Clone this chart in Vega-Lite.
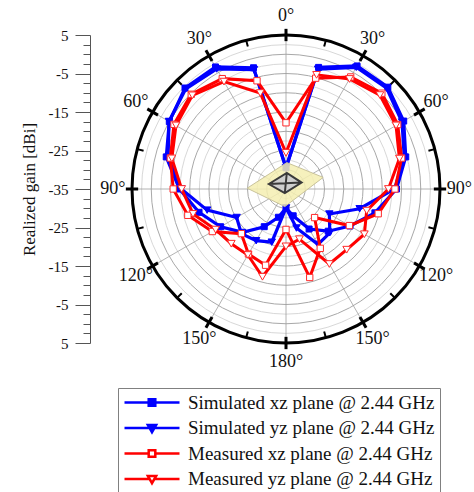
{
  "$schema": "https://vega.github.io/schema/vega-lite/v6.json",
  "width": 308,
  "height": 308,
  "autosize": {"type": "none"},
  "padding": {"left": 132, "top": 35, "right": 34, "bottom": 149},
  "background": "white",
  "config": {"view": {"stroke": null}, "font": "Liberation Serif"},
  "datasets": {
    "pattern": [
      {"series": "Simulated xz plane @ 2.44 GHz", "angle": -165, "gain": -27.4},
      {"series": "Simulated xz plane @ 2.44 GHz", "angle": -150, "gain": -23.7},
      {"series": "Simulated xz plane @ 2.44 GHz", "angle": -135, "gain": -19.1},
      {"series": "Simulated xz plane @ 2.44 GHz", "angle": -120, "gain": -15.4},
      {"series": "Simulated xz plane @ 2.44 GHz", "angle": -105, "gain": -11.6},
      {"series": "Simulated xz plane @ 2.44 GHz", "angle": -90, "gain": -7.3},
      {"series": "Simulated xz plane @ 2.44 GHz", "angle": -75, "gain": -2.8},
      {"series": "Simulated xz plane @ 2.44 GHz", "angle": -60, "gain": 0.0},
      {"series": "Simulated xz plane @ 2.44 GHz", "angle": -45, "gain": 2.1},
      {"series": "Simulated xz plane @ 2.44 GHz", "angle": -30, "gain": 1.6},
      {"series": "Simulated xz plane @ 2.44 GHz", "angle": -15, "gain": -2.4},
      {"series": "Simulated xz plane @ 2.44 GHz", "angle": 0, "gain": -29.5},
      {"series": "Simulated xz plane @ 2.44 GHz", "angle": 15, "gain": -2.3},
      {"series": "Simulated xz plane @ 2.44 GHz", "angle": 30, "gain": 1.9},
      {"series": "Simulated xz plane @ 2.44 GHz", "angle": 45, "gain": 2.4},
      {"series": "Simulated xz plane @ 2.44 GHz", "angle": 60, "gain": 0.3},
      {"series": "Simulated xz plane @ 2.44 GHz", "angle": 75, "gain": -2.8},
      {"series": "Simulated xz plane @ 2.44 GHz", "angle": 90, "gain": -6.3},
      {"series": "Simulated xz plane @ 2.44 GHz", "angle": 105, "gain": -11.1},
      {"series": "Simulated xz plane @ 2.44 GHz", "angle": 120, "gain": -15.8},
      {"series": "Simulated xz plane @ 2.44 GHz", "angle": 135, "gain": -19.5},
      {"series": "Simulated xz plane @ 2.44 GHz", "angle": 150, "gain": -23.0},
      {"series": "Simulated xz plane @ 2.44 GHz", "angle": 165, "gain": -27.8},
      {"series": "Simulated xz plane @ 2.44 GHz", "angle": 180, "gain": -30.1},
      {"series": "Simulated yz plane @ 2.44 GHz", "angle": -165, "gain": -20.7},
      {"series": "Simulated yz plane @ 2.44 GHz", "angle": -150, "gain": -19.5},
      {"series": "Simulated yz plane @ 2.44 GHz", "angle": -135, "gain": -18.6},
      {"series": "Simulated yz plane @ 2.44 GHz", "angle": -120, "gain": -20.2},
      {"series": "Simulated yz plane @ 2.44 GHz", "angle": -105, "gain": -13.8},
      {"series": "Simulated yz plane @ 2.44 GHz", "angle": -90, "gain": -7.8},
      {"series": "Simulated yz plane @ 2.44 GHz", "angle": -75, "gain": -3.3},
      {"series": "Simulated yz plane @ 2.44 GHz", "angle": -60, "gain": 0.1},
      {"series": "Simulated yz plane @ 2.44 GHz", "angle": -45, "gain": 1.8},
      {"series": "Simulated yz plane @ 2.44 GHz", "angle": -30, "gain": 1.0},
      {"series": "Simulated yz plane @ 2.44 GHz", "angle": -15, "gain": -2.9},
      {"series": "Simulated yz plane @ 2.44 GHz", "angle": 0, "gain": -29.5},
      {"series": "Simulated yz plane @ 2.44 GHz", "angle": 15, "gain": -2.8},
      {"series": "Simulated yz plane @ 2.44 GHz", "angle": 30, "gain": 1.5},
      {"series": "Simulated yz plane @ 2.44 GHz", "angle": 45, "gain": 2.0},
      {"series": "Simulated yz plane @ 2.44 GHz", "angle": 60, "gain": -0.2},
      {"series": "Simulated yz plane @ 2.44 GHz", "angle": 75, "gain": -3.2},
      {"series": "Simulated yz plane @ 2.44 GHz", "angle": 90, "gain": -6.8},
      {"series": "Simulated yz plane @ 2.44 GHz", "angle": 105, "gain": -15.2},
      {"series": "Simulated yz plane @ 2.44 GHz", "angle": 120, "gain": -22.0},
      {"series": "Simulated yz plane @ 2.44 GHz", "angle": 135, "gain": -18.9},
      {"series": "Simulated yz plane @ 2.44 GHz", "angle": 150, "gain": -18.4},
      {"series": "Simulated yz plane @ 2.44 GHz", "angle": 165, "gain": -24.5},
      {"series": "Simulated yz plane @ 2.44 GHz", "angle": 180, "gain": -30.1},
      {"series": "Measured xz plane @ 2.44 GHz", "angle": -165, "gain": -14.5},
      {"series": "Measured xz plane @ 2.44 GHz", "angle": -150, "gain": -15.5},
      {"series": "Measured xz plane @ 2.44 GHz", "angle": -135, "gain": -18.6},
      {"series": "Measured xz plane @ 2.44 GHz", "angle": -120, "gain": -12.9},
      {"series": "Measured xz plane @ 2.44 GHz", "angle": -105, "gain": -8.6},
      {"series": "Measured xz plane @ 2.44 GHz", "angle": -90, "gain": -5.7},
      {"series": "Measured xz plane @ 2.44 GHz", "angle": -75, "gain": -3.9},
      {"series": "Measured xz plane @ 2.44 GHz", "angle": -60, "gain": -1.4},
      {"series": "Measured xz plane @ 2.44 GHz", "angle": -45, "gain": -0.2},
      {"series": "Measured xz plane @ 2.44 GHz", "angle": -30, "gain": -1.9},
      {"series": "Measured xz plane @ 2.44 GHz", "angle": -15, "gain": -5.9},
      {"series": "Measured xz plane @ 2.44 GHz", "angle": 0, "gain": -17.8},
      {"series": "Measured xz plane @ 2.44 GHz", "angle": 15, "gain": -5.2},
      {"series": "Measured xz plane @ 2.44 GHz", "angle": 30, "gain": -1.4},
      {"series": "Measured xz plane @ 2.44 GHz", "angle": 45, "gain": 0.2},
      {"series": "Measured xz plane @ 2.44 GHz", "angle": 60, "gain": -1.5},
      {"series": "Measured xz plane @ 2.44 GHz", "angle": 75, "gain": -3.9},
      {"series": "Measured xz plane @ 2.44 GHz", "angle": 90, "gain": -6.7},
      {"series": "Measured xz plane @ 2.44 GHz", "angle": 105, "gain": -10.2},
      {"series": "Measured xz plane @ 2.44 GHz", "angle": 120, "gain": -16.0},
      {"series": "Measured xz plane @ 2.44 GHz", "angle": 135, "gain": -24.5},
      {"series": "Measured xz plane @ 2.44 GHz", "angle": 150, "gain": -17.2},
      {"series": "Measured xz plane @ 2.44 GHz", "angle": 165, "gain": -11.2},
      {"series": "Measured xz plane @ 2.44 GHz", "angle": 180, "gain": -24.5},
      {"series": "Measured yz plane @ 2.44 GHz", "angle": -165, "gain": -11.4},
      {"series": "Measured yz plane @ 2.44 GHz", "angle": -150, "gain": -15.2},
      {"series": "Measured yz plane @ 2.44 GHz", "angle": -135, "gain": -14.9},
      {"series": "Measured yz plane @ 2.44 GHz", "angle": -120, "gain": -13.9},
      {"series": "Measured yz plane @ 2.44 GHz", "angle": -105, "gain": -10.0},
      {"series": "Measured yz plane @ 2.44 GHz", "angle": -90, "gain": -7.9},
      {"series": "Measured yz plane @ 2.44 GHz", "angle": -75, "gain": -4.3},
      {"series": "Measured yz plane @ 2.44 GHz", "angle": -60, "gain": -2.0},
      {"series": "Measured yz plane @ 2.44 GHz", "angle": -45, "gain": -0.6},
      {"series": "Measured yz plane @ 2.44 GHz", "angle": -30, "gain": -2.8},
      {"series": "Measured yz plane @ 2.44 GHz", "angle": -15, "gain": -9.2},
      {"series": "Measured yz plane @ 2.44 GHz", "angle": 0, "gain": -25.6},
      {"series": "Measured yz plane @ 2.44 GHz", "angle": 15, "gain": -4.3},
      {"series": "Measured yz plane @ 2.44 GHz", "angle": 30, "gain": -2.0},
      {"series": "Measured yz plane @ 2.44 GHz", "angle": 45, "gain": -0.5},
      {"series": "Measured yz plane @ 2.44 GHz", "angle": 60, "gain": -2.0},
      {"series": "Measured yz plane @ 2.44 GHz", "angle": 75, "gain": -4.5},
      {"series": "Measured yz plane @ 2.44 GHz", "angle": 90, "gain": -8.4},
      {"series": "Measured yz plane @ 2.44 GHz", "angle": 105, "gain": -13.3},
      {"series": "Measured yz plane @ 2.44 GHz", "angle": 120, "gain": -11.5},
      {"series": "Measured yz plane @ 2.44 GHz", "angle": 135, "gain": -12.7},
      {"series": "Measured yz plane @ 2.44 GHz", "angle": 150, "gain": -12.5},
      {"series": "Measured yz plane @ 2.44 GHz", "angle": 165, "gain": -21.5},
      {"series": "Measured yz plane @ 2.44 GHz", "angle": 180, "gain": -20.1}
    ]
  },
  "layer": [
    {
      "data": {"values": [{"level": -32.5}, {"level": -30}, {"level": -27.5}, {"level": -25}, {"level": -22.5}, {"level": -20}, {"level": -17.5}, {"level": -15}, {"level": -12.5}, {"level": -10}, {"level": -7.5}, {"level": -5}, {"level": -2.5}, {"level": 0}, {"level": 2.5}, {"level": 5}]},
      "transform": [
        {"calculate": "0", "as": "ox"},
        {"calculate": "pow(2 * (datum.level + 35) * 3.85, 2)", "as": "area"}
      ],
      "mark": {"type": "point", "shape": "circle", "filled": false, "fill": null, "opacity": 1},
      "encoding": {
        "x": {"field": "ox", "type": "quantitative", "scale": {"domain": [-40, 40], "nice": false, "zero": false}, "axis": null},
        "y": {"field": "ox", "type": "quantitative", "scale": {"domain": [-40, 40], "nice": false, "zero": false},
          "axis": {"orient": "left", "offset": 42, "values": [-40, -37.5, -35, -32.5, -30, -27.5, -25, -22.5, -20, -17.5, -15, -12.5, -10, -7.5, -5, -2.5, 0, 2.5, 5, 7.5, 10, 12.5, 15, 17.5, 20, 22.5, 25, 27.5, 30, 32.5, 35, 37.5, 40], "labelExpr": "datum.value % 10 === 0 ? '' + (abs(datum.value) - 35) : ''", "tickSize": {"condition": {"test": "datum.value % 10 === 0", "value": 15}, "value": 7}, "tickColor": "#555", "domainColor": "#555", "grid": false, "labelFont": "Liberation Serif", "labelFontSize": 15, "labelColor": "#111", "labelPadding": 7, "labelOverlap": false, "labelFlush": false, "title": "Realized gain [dBi]", "titleFont": "Liberation Serif", "titleFontSize": 17, "titleFontWeight": "normal", "titleColor": "#111", "titlePadding": 10}},
        "size": {"field": "area", "type": "quantitative", "scale": null},
        "stroke": {"condition": [{"test": "datum.level === 5", "value": "black"}, {"test": "datum.level % 5 === 0", "value": "#a8a8a8"}], "value": "#d8d8d8"},
        "strokeWidth": {"condition": {"test": "datum.level === 5", "value": 3}, "value": 1}
      }
    },
    {
      "data": {"values": [{"angle": 0}, {"angle": 30}, {"angle": 60}, {"angle": 90}, {"angle": 120}, {"angle": 150}, {"angle": 180}, {"angle": 210}, {"angle": 240}, {"angle": 270}, {"angle": 300}, {"angle": 330}]},
      "transform": [
        {"calculate": "0", "as": "ox"},
        {"calculate": "39.5 * sin(datum.angle * PI / 180)", "as": "ex"},
        {"calculate": "39.5 * cos(datum.angle * PI / 180)", "as": "ey"}
      ],
      "mark": {"type": "rule", "color": "#a0a0a0", "strokeWidth": 0.8},
      "encoding": {
        "x": {"field": "ox", "type": "quantitative", "scale": {"domain": [-40, 40], "nice": false, "zero": false}, "axis": null},
        "y": {"field": "ox", "type": "quantitative", "scale": {"domain": [-40, 40], "nice": false, "zero": false},
          "axis": {"orient": "left", "offset": 42, "values": [-40, -37.5, -35, -32.5, -30, -27.5, -25, -22.5, -20, -17.5, -15, -12.5, -10, -7.5, -5, -2.5, 0, 2.5, 5, 7.5, 10, 12.5, 15, 17.5, 20, 22.5, 25, 27.5, 30, 32.5, 35, 37.5, 40], "labelExpr": "datum.value % 10 === 0 ? '' + (abs(datum.value) - 35) : ''", "tickSize": {"condition": {"test": "datum.value % 10 === 0", "value": 15}, "value": 7}, "tickColor": "#555", "domainColor": "#555", "grid": false, "labelFont": "Liberation Serif", "labelFontSize": 15, "labelColor": "#111", "labelPadding": 7, "labelOverlap": false, "labelFlush": false, "title": "Realized gain [dBi]", "titleFont": "Liberation Serif", "titleFontSize": 17, "titleFontWeight": "normal", "titleColor": "#111", "titlePadding": 10}},
        "x2": {"field": "ex"},
        "y2": {"field": "ey"}
      }
    },
    {
      "data": {"values": [{"angle": 0}, {"angle": 15}, {"angle": 30}, {"angle": 45}, {"angle": 60}, {"angle": 75}, {"angle": 90}, {"angle": 105}, {"angle": 120}, {"angle": 135}, {"angle": 150}, {"angle": 165}, {"angle": 180}, {"angle": 195}, {"angle": 210}, {"angle": 225}, {"angle": 240}, {"angle": 255}, {"angle": 270}, {"angle": 285}, {"angle": 300}, {"angle": 315}, {"angle": 330}, {"angle": 345}]},
      "transform": [
        {"calculate": "datum.angle % 30 === 0 ? 38.4 : 38.3", "as": "r1"},
        {"calculate": "datum.angle % 30 === 0 ? 41.6 : 40", "as": "r2"},
        {"calculate": "datum.r1 * sin(datum.angle * PI / 180)", "as": "tx1"},
        {"calculate": "datum.r1 * cos(datum.angle * PI / 180)", "as": "ty1"},
        {"calculate": "datum.r2 * sin(datum.angle * PI / 180)", "as": "tx2"},
        {"calculate": "datum.r2 * cos(datum.angle * PI / 180)", "as": "ty2"}
      ],
      "mark": {"type": "rule", "color": "black"},
      "encoding": {
        "x": {"field": "tx1", "type": "quantitative", "scale": {"domain": [-40, 40], "nice": false, "zero": false}, "axis": null},
        "y": {"field": "ty1", "type": "quantitative", "scale": {"domain": [-40, 40], "nice": false, "zero": false},
          "axis": {"orient": "left", "offset": 42, "values": [-40, -37.5, -35, -32.5, -30, -27.5, -25, -22.5, -20, -17.5, -15, -12.5, -10, -7.5, -5, -2.5, 0, 2.5, 5, 7.5, 10, 12.5, 15, 17.5, 20, 22.5, 25, 27.5, 30, 32.5, 35, 37.5, 40], "labelExpr": "datum.value % 10 === 0 ? '' + (abs(datum.value) - 35) : ''", "tickSize": {"condition": {"test": "datum.value % 10 === 0", "value": 15}, "value": 7}, "tickColor": "#555", "domainColor": "#555", "grid": false, "labelFont": "Liberation Serif", "labelFontSize": 15, "labelColor": "#111", "labelPadding": 7, "labelOverlap": false, "labelFlush": false, "title": "Realized gain [dBi]", "titleFont": "Liberation Serif", "titleFontSize": 17, "titleFontWeight": "normal", "titleColor": "#111", "titlePadding": 10}},
        "x2": {"field": "tx2"},
        "y2": {"field": "ty2"},
        "strokeWidth": {"condition": {"test": "datum.angle % 30 === 0", "value": 3}, "value": 2}
      }
    },
    {
      "data": {"values": [
        {"angle": 0, "label": "0°"}, {"angle": 30, "label": "30°"}, {"angle": 60, "label": "60°"}, {"angle": 90, "label": "90°"}, {"angle": 120, "label": "120°"}, {"angle": 150, "label": "150°"}, {"angle": 180, "label": "180°"},
        {"angle": -30, "label": "30°"}, {"angle": -60, "label": "60°"}, {"angle": -90, "label": "90°"}, {"angle": -120, "label": "120°"}, {"angle": -150, "label": "150°"}
      ]},
      "transform": [
        {"calculate": "45 * sin(datum.angle * PI / 180)", "as": "lx"},
        {"calculate": "45 * cos(datum.angle * PI / 180)", "as": "ly"}
      ],
      "mark": {"type": "text", "font": "Liberation Serif", "fontSize": 18, "color": "#111", "align": "center", "baseline": "middle"},
      "encoding": {
        "x": {"field": "lx", "type": "quantitative", "scale": {"domain": [-40, 40], "nice": false, "zero": false}, "axis": null},
        "y": {"field": "ly", "type": "quantitative", "scale": {"domain": [-40, 40], "nice": false, "zero": false},
          "axis": {"orient": "left", "offset": 42, "values": [-40, -37.5, -35, -32.5, -30, -27.5, -25, -22.5, -20, -17.5, -15, -12.5, -10, -7.5, -5, -2.5, 0, 2.5, 5, 7.5, 10, 12.5, 15, 17.5, 20, 22.5, 25, 27.5, 30, 32.5, 35, 37.5, 40], "labelExpr": "datum.value % 10 === 0 ? '' + (abs(datum.value) - 35) : ''", "tickSize": {"condition": {"test": "datum.value % 10 === 0", "value": 15}, "value": 7}, "tickColor": "#555", "domainColor": "#555", "grid": false, "labelFont": "Liberation Serif", "labelFontSize": 15, "labelColor": "#111", "labelPadding": 7, "labelOverlap": false, "labelFlush": false, "title": "Realized gain [dBi]", "titleFont": "Liberation Serif", "titleFontSize": 17, "titleFontWeight": "normal", "titleColor": "#111", "titlePadding": 10}},
        "text": {"field": "label", "type": "nominal"}
      }
    },
    {
      "data": {"name": "pattern"},
      "transform": [
        {"filter": "indexof(datum.series, 'Simulated') === 0"},
        {"calculate": "(datum.gain + 35) * sin(datum.angle * PI / 180)", "as": "px"},
        {"calculate": "(datum.gain + 35) * cos(datum.angle * PI / 180)", "as": "py"}
      ],
      "mark": {"type": "line", "interpolate": "linear-closed", "stroke": "#0000ff", "strokeWidth": 3.2},
      "encoding": {
        "x": {"field": "px", "type": "quantitative", "scale": {"domain": [-40, 40], "nice": false, "zero": false}, "axis": null},
        "y": {"field": "py", "type": "quantitative", "scale": {"domain": [-40, 40], "nice": false, "zero": false},
          "axis": {"orient": "left", "offset": 42, "values": [-40, -37.5, -35, -32.5, -30, -27.5, -25, -22.5, -20, -17.5, -15, -12.5, -10, -7.5, -5, -2.5, 0, 2.5, 5, 7.5, 10, 12.5, 15, 17.5, 20, 22.5, 25, 27.5, 30, 32.5, 35, 37.5, 40], "labelExpr": "datum.value % 10 === 0 ? '' + (abs(datum.value) - 35) : ''", "tickSize": {"condition": {"test": "datum.value % 10 === 0", "value": 15}, "value": 7}, "tickColor": "#555", "domainColor": "#555", "grid": false, "labelFont": "Liberation Serif", "labelFontSize": 15, "labelColor": "#111", "labelPadding": 7, "labelOverlap": false, "labelFlush": false, "title": "Realized gain [dBi]", "titleFont": "Liberation Serif", "titleFontSize": 17, "titleFontWeight": "normal", "titleColor": "#111", "titlePadding": 10}},
        "detail": {"field": "series", "type": "nominal"},
        "order": {"field": "angle", "type": "quantitative"}
      }
    },
    {
      "data": {"name": "pattern"},
      "transform": [
        {"filter": "indexof(datum.series, 'Simulated') === 0"},
        {"calculate": "(datum.gain + 35) * sin(datum.angle * PI / 180)", "as": "px"},
        {"calculate": "(datum.gain + 35) * cos(datum.angle * PI / 180)", "as": "py"}
      ],
      "mark": {"type": "point", "filled": true, "fill": "#0000ff", "stroke": "#0000ff", "strokeWidth": 1, "opacity": 1},
      "encoding": {
        "x": {"field": "px", "type": "quantitative", "scale": {"domain": [-40, 40], "nice": false, "zero": false}, "axis": null},
        "y": {"field": "py", "type": "quantitative", "scale": {"domain": [-40, 40], "nice": false, "zero": false},
          "axis": {"orient": "left", "offset": 42, "values": [-40, -37.5, -35, -32.5, -30, -27.5, -25, -22.5, -20, -17.5, -15, -12.5, -10, -7.5, -5, -2.5, 0, 2.5, 5, 7.5, 10, 12.5, 15, 17.5, 20, 22.5, 25, 27.5, 30, 32.5, 35, 37.5, 40], "labelExpr": "datum.value % 10 === 0 ? '' + (abs(datum.value) - 35) : ''", "tickSize": {"condition": {"test": "datum.value % 10 === 0", "value": 15}, "value": 7}, "tickColor": "#555", "domainColor": "#555", "grid": false, "labelFont": "Liberation Serif", "labelFontSize": 15, "labelColor": "#111", "labelPadding": 7, "labelOverlap": false, "labelFlush": false, "title": "Realized gain [dBi]", "titleFont": "Liberation Serif", "titleFontSize": 17, "titleFontWeight": "normal", "titleColor": "#111", "titlePadding": 10}},
        "shape": {"condition": {"test": "indexof(datum.series, 'xz') >= 0", "value": "square"}, "value": "triangle-down"},
        "size": {"condition": {"test": "indexof(datum.series, 'xz') >= 0", "value": 36}, "value": 55}
      }
    },
    {
      "data": {"name": "pattern"},
      "transform": [
        {"filter": "indexof(datum.series, 'Measured') === 0"},
        {"calculate": "(datum.gain + 35) * sin(datum.angle * PI / 180)", "as": "px"},
        {"calculate": "(datum.gain + 35) * cos(datum.angle * PI / 180)", "as": "py"}
      ],
      "mark": {"type": "line", "interpolate": "linear-closed", "stroke": "#ff0000", "strokeWidth": 3},
      "encoding": {
        "x": {"field": "px", "type": "quantitative", "scale": {"domain": [-40, 40], "nice": false, "zero": false}, "axis": null},
        "y": {"field": "py", "type": "quantitative", "scale": {"domain": [-40, 40], "nice": false, "zero": false},
          "axis": {"orient": "left", "offset": 42, "values": [-40, -37.5, -35, -32.5, -30, -27.5, -25, -22.5, -20, -17.5, -15, -12.5, -10, -7.5, -5, -2.5, 0, 2.5, 5, 7.5, 10, 12.5, 15, 17.5, 20, 22.5, 25, 27.5, 30, 32.5, 35, 37.5, 40], "labelExpr": "datum.value % 10 === 0 ? '' + (abs(datum.value) - 35) : ''", "tickSize": {"condition": {"test": "datum.value % 10 === 0", "value": 15}, "value": 7}, "tickColor": "#555", "domainColor": "#555", "grid": false, "labelFont": "Liberation Serif", "labelFontSize": 15, "labelColor": "#111", "labelPadding": 7, "labelOverlap": false, "labelFlush": false, "title": "Realized gain [dBi]", "titleFont": "Liberation Serif", "titleFontSize": 17, "titleFontWeight": "normal", "titleColor": "#111", "titlePadding": 10}},
        "detail": {"field": "series", "type": "nominal"},
        "order": {"field": "angle", "type": "quantitative"}
      }
    },
    {
      "data": {"name": "pattern"},
      "transform": [
        {"filter": "indexof(datum.series, 'Measured') === 0"},
        {"calculate": "(datum.gain + 35) * sin(datum.angle * PI / 180)", "as": "px"},
        {"calculate": "(datum.gain + 35) * cos(datum.angle * PI / 180)", "as": "py"}
      ],
      "mark": {"type": "point", "filled": true, "fill": "white", "stroke": "#ff2a2a", "strokeWidth": 1, "opacity": 1},
      "encoding": {
        "x": {"field": "px", "type": "quantitative", "scale": {"domain": [-40, 40], "nice": false, "zero": false}, "axis": null},
        "y": {"field": "py", "type": "quantitative", "scale": {"domain": [-40, 40], "nice": false, "zero": false},
          "axis": {"orient": "left", "offset": 42, "values": [-40, -37.5, -35, -32.5, -30, -27.5, -25, -22.5, -20, -17.5, -15, -12.5, -10, -7.5, -5, -2.5, 0, 2.5, 5, 7.5, 10, 12.5, 15, 17.5, 20, 22.5, 25, 27.5, 30, 32.5, 35, 37.5, 40], "labelExpr": "datum.value % 10 === 0 ? '' + (abs(datum.value) - 35) : ''", "tickSize": {"condition": {"test": "datum.value % 10 === 0", "value": 15}, "value": 7}, "tickColor": "#555", "domainColor": "#555", "grid": false, "labelFont": "Liberation Serif", "labelFontSize": 15, "labelColor": "#111", "labelPadding": 7, "labelOverlap": false, "labelFlush": false, "title": "Realized gain [dBi]", "titleFont": "Liberation Serif", "titleFontSize": 17, "titleFontWeight": "normal", "titleColor": "#111", "titlePadding": 10}},
        "shape": {"condition": {"test": "indexof(datum.series, 'xz') >= 0", "value": "square"}, "value": "triangle-down"},
        "size": {"condition": {"test": "indexof(datum.series, 'xz') >= 0", "value": 40}, "value": 60}
      }
    },
    {
      "data": {"name": "pattern"},
      "transform": [
        {"filter": "datum.angle === 0"},
        {"calculate": "0", "as": "ox"}
      ],
      "mark": {"type": "point", "filled": true, "opacity": 0, "strokeWidth": 2.5},
      "encoding": {
        "x": {"field": "ox", "type": "quantitative", "scale": {"domain": [-40, 40], "nice": false, "zero": false}, "axis": null},
        "y": {"field": "ox", "type": "quantitative", "scale": {"domain": [-40, 40], "nice": false, "zero": false},
          "axis": {"orient": "left", "offset": 42, "values": [-40, -37.5, -35, -32.5, -30, -27.5, -25, -22.5, -20, -17.5, -15, -12.5, -10, -7.5, -5, -2.5, 0, 2.5, 5, 7.5, 10, 12.5, 15, 17.5, 20, 22.5, 25, 27.5, 30, 32.5, 35, 37.5, 40], "labelExpr": "datum.value % 10 === 0 ? '' + (abs(datum.value) - 35) : ''", "tickSize": {"condition": {"test": "datum.value % 10 === 0", "value": 15}, "value": 7}, "tickColor": "#555", "domainColor": "#555", "grid": false, "labelFont": "Liberation Serif", "labelFontSize": 15, "labelColor": "#111", "labelPadding": 7, "labelOverlap": false, "labelFlush": false, "title": "Realized gain [dBi]", "titleFont": "Liberation Serif", "titleFontSize": 17, "titleFontWeight": "normal", "titleColor": "#111", "titlePadding": 10}},
        "shape": {
          "field": "series", "type": "nominal",
          "scale": {
            "domain": ["Simulated xz plane @ 2.44 GHz", "Simulated yz plane @ 2.44 GHz", "Measured xz plane @ 2.44 GHz", "Measured yz plane @ 2.44 GHz"],
            "range": ["M-1,0H-0.12M0.12,0H1M-0.12,-0.12H0.12V0.12H-0.12Z", "M-1,0H-0.08M0.08,0H1M-0.15,-0.11H0.15L0,0.15Z", "M-1,0H-0.12M0.12,0H1M-0.12,-0.12H0.12V0.12H-0.12Z", "M-1,0H-0.08M0.08,0H1M-0.15,-0.11H0.15L0,0.15Z"]
          },
          "legend": {
            "title": null,
            "orient": "none",
            "legendX": -14,
            "legendY": 353,
            "symbolSize": 3025,
            "symbolStrokeWidth": 2.5,
            "symbolOpacity": 1,
            "clipHeight": 19,
            "rowPadding": 5.5,
            "labelOffset": 7,
            "labelFont": "Liberation Serif",
            "labelFontSize": 19,
            "labelColor": "#111",
            "labelLimit": 400,
            "strokeColor": "#808080",
            "fillColor": "white",
            "padding": 5
          }
        },
        "stroke": {
          "field": "series", "type": "nominal",
          "scale": {
            "domain": ["Simulated xz plane @ 2.44 GHz", "Simulated yz plane @ 2.44 GHz", "Measured xz plane @ 2.44 GHz", "Measured yz plane @ 2.44 GHz"],
            "range": ["#0000ff", "#0000ff", "#ff0000", "#ff0000"]
          }
        },
        "fill": {
          "field": "series", "type": "nominal",
          "scale": {
            "domain": ["Simulated xz plane @ 2.44 GHz", "Simulated yz plane @ 2.44 GHz", "Measured xz plane @ 2.44 GHz", "Measured yz plane @ 2.44 GHz"],
            "range": ["#0000ff", "#0000ff", "#ffffff", "#ffffff"]
          }
        }
      }
    },
    {
      "data": {"values": [{"part": "ground plane", "ox": 0}]},
      "mark": {"type": "point", "filled": true, "shape": "M-0.97,-0.02L0.02,-0.66L0.93,-0.29L-0.03,0.44Z", "size": 6400, "fill": "#f4efb2", "fillOpacity": 0.85, "stroke": "#c9c39a", "strokeWidth": 1, "opacity": 1},
      "encoding": {
        "x": {"field": "ox", "type": "quantitative", "scale": {"domain": [-40, 40], "nice": false, "zero": false}, "axis": null},
        "y": {"field": "ox", "type": "quantitative", "scale": {"domain": [-40, 40], "nice": false, "zero": false},
          "axis": {"orient": "left", "offset": 42, "values": [-40, -37.5, -35, -32.5, -30, -27.5, -25, -22.5, -20, -17.5, -15, -12.5, -10, -7.5, -5, -2.5, 0, 2.5, 5, 7.5, 10, 12.5, 15, 17.5, 20, 22.5, 25, 27.5, 30, 32.5, 35, 37.5, 40], "labelExpr": "datum.value % 10 === 0 ? '' + (abs(datum.value) - 35) : ''", "tickSize": {"condition": {"test": "datum.value % 10 === 0", "value": 15}, "value": 7}, "tickColor": "#555", "domainColor": "#555", "grid": false, "labelFont": "Liberation Serif", "labelFontSize": 15, "labelColor": "#111", "labelPadding": 7, "labelOverlap": false, "labelFlush": false, "title": "Realized gain [dBi]", "titleFont": "Liberation Serif", "titleFontSize": 17, "titleFontWeight": "normal", "titleColor": "#111", "titlePadding": 10}}
      }
    },
    {
      "data": {"values": [{"part": "radiator", "ox": 0}]},
      "mark": {"type": "point", "filled": true, "shape": "M-0.43,-0.125L0.02,-0.4L0.39,-0.16L-0.03,0.1ZM-0.43,-0.125L0.39,-0.16M0.02,-0.4L-0.03,0.1", "size": 6400, "fill": "#cfcfcf", "stroke": "#3a3a3a", "strokeWidth": 2, "opacity": 1},
      "encoding": {
        "x": {"field": "ox", "type": "quantitative", "scale": {"domain": [-40, 40], "nice": false, "zero": false}, "axis": null},
        "y": {"field": "ox", "type": "quantitative", "scale": {"domain": [-40, 40], "nice": false, "zero": false},
          "axis": {"orient": "left", "offset": 42, "values": [-40, -37.5, -35, -32.5, -30, -27.5, -25, -22.5, -20, -17.5, -15, -12.5, -10, -7.5, -5, -2.5, 0, 2.5, 5, 7.5, 10, 12.5, 15, 17.5, 20, 22.5, 25, 27.5, 30, 32.5, 35, 37.5, 40], "labelExpr": "datum.value % 10 === 0 ? '' + (abs(datum.value) - 35) : ''", "tickSize": {"condition": {"test": "datum.value % 10 === 0", "value": 15}, "value": 7}, "tickColor": "#555", "domainColor": "#555", "grid": false, "labelFont": "Liberation Serif", "labelFontSize": 15, "labelColor": "#111", "labelPadding": 7, "labelOverlap": false, "labelFlush": false, "title": "Realized gain [dBi]", "titleFont": "Liberation Serif", "titleFontSize": 17, "titleFontWeight": "normal", "titleColor": "#111", "titlePadding": 10}}
      }
    }
  ]
}
